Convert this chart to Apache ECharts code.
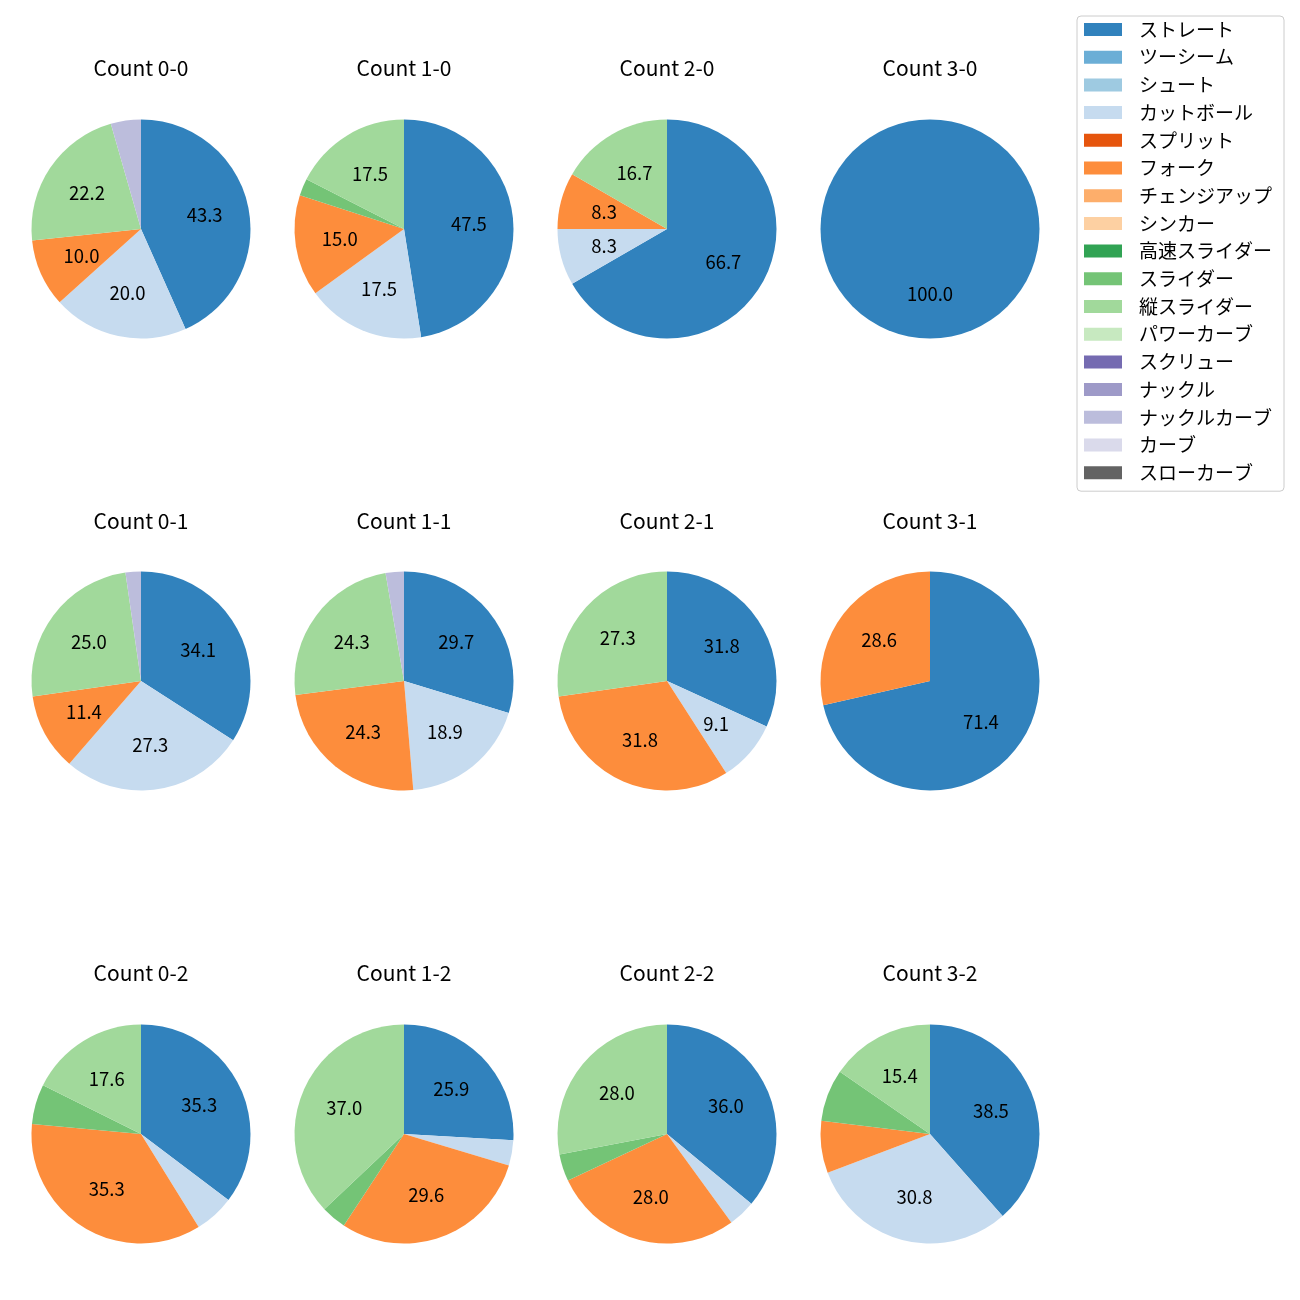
<!DOCTYPE html>
<html><head><meta charset="utf-8">
<script src="https://cdn.jsdelivr.net/npm/echarts@6/dist/echarts.min.js"></script>
<style>html,body{margin:0;padding:0;background:#fff}#c{width:1300px;height:1300px}</style>
</head><body><div id="c"></div>
<script>
// Pitch types (legend order) and colours
const pitchTypes = ['ストレート','ツーシーム','シュート','カットボール','スプリット','フォーク','チェンジアップ','シンカー','高速スライダー','スライダー','縦スライダー','パワーカーブ','スクリュー','ナックル','ナックルカーブ','カーブ','スローカーブ'];
const pitchColors = ['#3182bd','#6baed6','#9ecae1','#c6dbef','#e6550d','#fd8d3c','#fdae6b','#fdd0a2','#31a354','#74c476','#a1d99b','#c7e9c0','#756bb1','#9e9ac8','#bcbddc','#dadaeb','#636363'];
const countTitles = ['Count 0-0','Count 1-0','Count 2-0','Count 3-0','Count 0-1','Count 1-1','Count 2-1','Count 3-1','Count 0-2','Count 1-2','Count 2-2','Count 3-2'];
// counts per pitch type, in pitchTypes order
const c00 = [39,0,0,18,0,9,0,0,0,0,20,0,0,0,4,0,0];
const c10 = [19,0,0,7,0,6,0,0,0,1,7,0,0,0,0,0,0];
const c20 = [8,0,0,1,0,1,0,0,0,0,2,0,0,0,0,0,0];
const c30 = [1,0,0,0,0,0,0,0,0,0,0,0,0,0,0,0,0];
const c01 = [15,0,0,12,0,5,0,0,0,0,11,0,0,0,1,0,0];
const c11 = [11,0,0,7,0,9,0,0,0,0,9,0,0,0,1,0,0];
const c21 = [7,0,0,2,0,7,0,0,0,0,6,0,0,0,0,0,0];
const c31 = [5,0,0,0,0,2,0,0,0,0,0,0,0,0,0,0,0];
const c02 = [6,0,0,1,0,6,0,0,0,1,3,0,0,0,0,0,0];
const c12 = [7,0,0,1,0,8,0,0,0,1,10,0,0,0,0,0,0];
const c22 = [9,0,0,1,0,7,0,0,0,1,7,0,0,0,0,0,0];
const c32 = [5,0,0,4,0,1,0,0,0,1,2,0,0,0,0,0,0];
const pieValues = [c00,c10,c20,c30,c01,c11,c21,c31,c02,c12,c22,c32];

const FONT = '"Noto Sans CJK JP", "Noto Sans", sans-serif';
const colX = [141, 404, 667, 930];
const rowY = [229, 681, 1134];
const titleY = [68, 521, 973];
const R = 109.5;

const titles = [], series = [];
pieValues.forEach((vals, i) => {
  const col = i % 4, row = Math.floor(i / 4);
  titles.push({
    text: countTitles[i], left: colX[col], top: titleY[row] - 12, textAlign: 'center', padding: 0,
    textStyle: {fontFamily: FONT, fontSize: 21, fontWeight: 'normal', color: '#000', lineHeight: 24}
  });
  const data = pitchTypes.map((n, k) => ({name: n, value: vals[k], itemStyle: {color: pitchColors[k]}}));
  series.push({
    type: 'pie', center: [colX[col], rowY[row]], radius: [0, R], startAngle: 90, clockwise: true,
    data: data, label: {show: false}, labelLine: {show: false}, silent: true,
    itemStyle: {borderWidth: 0}, emphasis: {disabled: true}, animation: false
  });
  series.push({
    type: 'pie', center: [colX[col], rowY[row]], radius: [R * 0.134, R], startAngle: 90, clockwise: true,
    data: pitchTypes.map((n, k) => ({name: n, value: vals[k]})),
    itemStyle: {color: 'rgba(0,0,0,0)', borderWidth: 0}, silent: true, emphasis: {disabled: true},
    labelLine: {show: false}, animation: false,
    label: {show: true, position: 'inside', color: '#000', fontFamily: FONT, fontSize: 18.5,
      formatter: p => (p.percent >= 8 ? p.percent.toFixed(1) : '')}
  });
});

const chart = echarts.init(document.getElementById('c'), null, {renderer: 'canvas'});
chart.setOption({
  backgroundColor: '#fff',
  animation: false,
  title: titles,
  legend: {
    data: pitchTypes, orient: 'vertical', left: 1077, top: 16,
    padding: [4, 12, 9, 7], itemWidth: 38, itemHeight: 13, itemGap: 8.7,
    borderColor: '#cccccc', borderWidth: 1, borderRadius: 4, icon: 'rect',
    selectedMode: false,
    textStyle: {fontFamily: FONT, fontSize: 19, color: '#000', lineHeight: 19, padding: [0, 0, 0, 12]}
  },
  series: series
});
</script></body></html>
